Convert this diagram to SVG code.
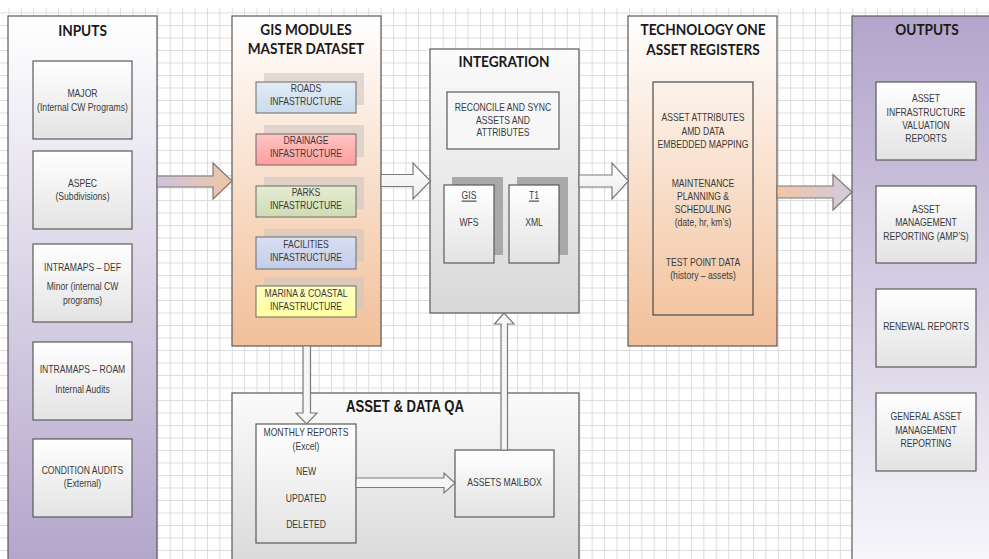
<svg xmlns="http://www.w3.org/2000/svg" width="989" height="559" viewBox="0 0 989 559">
<style>
.t{font-family:"Liberation Sans",Arial,sans-serif;font-size:10.5px;fill:#3a3a3a;text-anchor:middle}
.h{font-family:Lato,"Open Sans","Liberation Sans",sans-serif;font-weight:bold;font-size:15.5px;fill:#1a1a1a;text-anchor:middle}
.hn{font-family:"Liberation Sans",Arial,sans-serif;font-weight:bold;font-size:16px;fill:#1a1a1a;text-anchor:middle}
.pn{stroke:#5a5a5a;stroke-width:1.2}
.bx{fill:url(#gBox);stroke:#5a5a5a;stroke-width:1.2}
.sb{stroke:#6a6a6a;stroke-width:1}
.sh{fill:#cfc6c2;opacity:.6}
.sh2{fill:#a9a9a9}
.ar{stroke:#7a7a7a;stroke-width:1.2}
</style>
<defs>
<pattern id="grid" x="8.4" y="0" width="12.41" height="12.5" patternUnits="userSpaceOnUse">
<path d="M0.5 0V12.5M0 0.5H12.41" stroke="#dcdcdc" stroke-width="1" fill="none"/>
</pattern>
<linearGradient id="gIn" x1="0" y1="0" x2="0" y2="1"><stop offset="0" stop-color="#ffffff"/><stop offset="1" stop-color="#b2a5cb"/></linearGradient>
<linearGradient id="gOut" x1="0" y1="0" x2="0" y2="1"><stop offset="0" stop-color="#b2a5cb"/><stop offset="1" stop-color="#f8f7fb"/></linearGradient>
<linearGradient id="gPeach" x1="0" y1="0" x2="0" y2="1"><stop offset="0" stop-color="#ffffff"/><stop offset="1" stop-color="#f2bf98"/></linearGradient>
<linearGradient id="gGrey" x1="0" y1="0" x2="0" y2="1"><stop offset="0" stop-color="#fbfbfb"/><stop offset="1" stop-color="#d8d8d8"/></linearGradient>
<linearGradient id="gBox" x1="0" y1="0" x2="0" y2="1"><stop offset="0" stop-color="#ffffff"/><stop offset="1" stop-color="#e3e3e3"/></linearGradient>
<linearGradient id="gRoad" x1="0" y1="0" x2="0" y2="1"><stop offset="0" stop-color="#e3ecf5"/><stop offset="1" stop-color="#c9dbed"/></linearGradient>
<linearGradient id="gDrain" x1="0" y1="0" x2="0" y2="1"><stop offset="0" stop-color="#ffc4c4"/><stop offset="1" stop-color="#ff9e9e"/></linearGradient>
<linearGradient id="gPark" x1="0" y1="0" x2="0" y2="1"><stop offset="0" stop-color="#e4ecd2"/><stop offset="1" stop-color="#cfdcb2"/></linearGradient>
<linearGradient id="gFac" x1="0" y1="0" x2="0" y2="1"><stop offset="0" stop-color="#d9def2"/><stop offset="1" stop-color="#c4cde9"/></linearGradient>
<linearGradient id="gMar" x1="0" y1="0" x2="0" y2="1"><stop offset="0" stop-color="#ffffc4"/><stop offset="1" stop-color="#ffff9e"/></linearGradient>
<linearGradient id="gA1" x1="0" y1="0" x2="1" y2="0"><stop offset="0" stop-color="#cdc2dc"/><stop offset="1" stop-color="#f1c6a6"/></linearGradient>
<linearGradient id="gA4" x1="0" y1="0" x2="1" y2="0"><stop offset="0" stop-color="#f2c6a5"/><stop offset="1" stop-color="#d2c9df"/></linearGradient>
<linearGradient id="gAW" x1="0" y1="0" x2="0" y2="1"><stop offset="0" stop-color="#ffffff"/><stop offset="1" stop-color="#ececec"/></linearGradient>
</defs>
<rect width="989" height="559" fill="#ffffff"/>
<rect x="0" y="8" width="989" height="551" fill="url(#grid)"/>

<g id="inputs">
<rect class="pn" x="8" y="16" width="149" height="550" fill="url(#gIn)"/>
<g transform="translate(82.5 0) scale(0.88 1)"><text class="h" x="0" y="36">INPUTS</text></g>
<rect class="bx" x="33" y="61" width="99" height="78"/>
<rect class="bx" x="33" y="151" width="99" height="78"/>
<rect class="bx" x="33" y="244" width="99" height="78"/>
<rect class="bx" x="33" y="342" width="99" height="78"/>
<rect class="bx" x="33" y="439" width="99" height="78"/>
<g transform="translate(82.5 0) scale(0.82 1)">
<text class="t" x="0" y="97.5">MAJOR</text>
<text class="t" x="0" y="111.5">(Internal CW Programs)</text>
<text class="t" x="0" y="187.5">ASPEC</text>
<text class="t" x="0" y="200.5">(Subdivisions)</text>
<text class="t" x="0" y="271.5">INTRAMAPS – DEF</text>
<text class="t" x="0" y="290.5">Minor (internal CW</text>
<text class="t" x="0" y="304.5">programs)</text>
<text class="t" x="0" y="373.5">INTRAMAPS – ROAM</text>
<text class="t" x="0" y="393.5">Internal Audits</text>
<text class="t" x="0" y="474.5">CONDITION AUDITS</text>
<text class="t" x="0" y="487.5">(External)</text>
</g>
</g>

<g id="gis-modules">
<rect class="pn" x="232" y="16" width="149" height="330" fill="url(#gPeach)"/>
<g transform="translate(306 0) scale(0.88 1)">
<text class="h" x="0" y="35">GIS MODULES</text>
<text class="h" x="0" y="54.5">MASTER DATASET</text>
</g>
<rect class="sh" x="264" y="73" width="100" height="32"/>
<rect class="sb" x="256" y="82" width="100" height="31" fill="url(#gRoad)"/>
<rect class="sh" x="264" y="125" width="100" height="32"/>
<rect class="sb" x="256" y="134" width="100" height="31" fill="url(#gDrain)"/>
<rect class="sh" x="264" y="177" width="100" height="32"/>
<rect class="sb" x="256" y="186" width="100" height="31" fill="url(#gPark)"/>
<rect class="sh" x="264" y="229" width="100" height="32"/>
<rect class="sb" x="256" y="237" width="100" height="32" fill="url(#gFac)"/>
<rect class="sh" x="264" y="277" width="100" height="32"/>
<rect class="sb" x="256" y="286" width="100" height="31" fill="url(#gMar)"/>
<g transform="translate(306 0) scale(0.82 1)">
<text class="t" x="0" y="92.5">ROADS</text>
<text class="t" x="0" y="105.5">INFASTRUCTURE</text>
<text class="t" x="0" y="144.5">DRAINAGE</text>
<text class="t" x="0" y="157.5">INFASTRUCTURE</text>
<text class="t" x="0" y="196.5">PARKS</text>
<text class="t" x="0" y="209.5">INFASTRUCTURE</text>
<text class="t" x="0" y="248">FACILITIES</text>
<text class="t" x="0" y="261">INFASTRUCTURE</text>
<text class="t" x="0" y="297.5">MARINA &amp; COASTAL</text>
<text class="t" x="0" y="310.5">INFASTRUCTURE</text>
</g>
</g>

<g id="integration">
<rect class="pn" x="430" y="49" width="149" height="264" fill="url(#gGrey)"/>
<g transform="translate(504 0) scale(0.88 1)"><text class="h" x="0" y="67.5">INTEGRATION</text></g>
<rect x="447" y="92" width="112" height="57" fill="#f7f7f7" stroke="#5a5a5a" stroke-width="1.2"/>
<g transform="translate(503 0) scale(0.82 1)">
<text class="t" x="0" y="111.5">RECONCILE AND SYNC</text>
<text class="t" x="0" y="124.5">ASSETS AND</text>
<text class="t" x="0" y="136.5">ATTRIBUTES</text>
</g>
<rect class="sh2" x="452" y="177" width="51" height="78"/>
<rect class="bx" x="444" y="185" width="50" height="78"/>
<g transform="translate(469 0) scale(0.82 1)">
<text class="t" x="0" y="199.5" text-decoration="underline">GIS</text>
<text class="t" x="0" y="226.5">WFS</text>
</g>
<rect class="sh2" x="517" y="177" width="51" height="78"/>
<rect class="bx" x="509" y="185" width="50" height="78"/>
<g transform="translate(534 0) scale(0.82 1)">
<text class="t" x="0" y="199.5" text-decoration="underline">T1</text>
<text class="t" x="0" y="226.5">XML</text>
</g>
</g>

<g id="technology-one">
<rect class="pn" x="628" y="16" width="149" height="330" fill="url(#gPeach)"/>
<g transform="translate(703 0) scale(0.88 1)">
<text class="h" x="0" y="35">TECHNOLOGY ONE</text>
<text class="h" x="0" y="55">ASSET REGISTERS</text>
</g>
<rect x="653" y="82" width="100" height="233" fill="none" stroke="#4a4a4a" stroke-width="1.2"/>
<g transform="translate(703 0) scale(0.82 1)">
<text class="t" x="0" y="121.5">ASSET ATTRIBUTES</text>
<text class="t" x="0" y="135.5">AMD DATA</text>
<text class="t" x="0" y="148.5">EMBEDDED MAPPING</text>
<text class="t" x="0" y="187.5">MAINTENANCE</text>
<text class="t" x="0" y="200.5">PLANNING &amp;</text>
<text class="t" x="0" y="213.5">SCHEDULING</text>
<text class="t" x="0" y="226.5">(date, hr, km’s)</text>
<text class="t" x="0" y="266.5">TEST POINT DATA</text>
<text class="t" x="0" y="279.5">(history – assets)</text>
</g>
</g>

<g id="outputs">
<rect class="pn" x="852" y="16" width="150" height="550" fill="url(#gOut)"/>
<g transform="translate(927 0) scale(0.88 1)"><text class="h" x="0" y="35">OUTPUTS</text></g>
<rect class="bx" x="876" y="82" width="100" height="78"/>
<rect class="bx" x="876" y="186" width="100" height="77"/>
<rect class="bx" x="876" y="289" width="100" height="78"/>
<rect class="bx" x="876" y="393" width="100" height="78"/>
<g transform="translate(926 0) scale(0.82 1)">
<text class="t" x="0" y="102.5">ASSET</text>
<text class="t" x="0" y="116">INFRASTRUCTURE</text>
<text class="t" x="0" y="129.5">VALUATION</text>
<text class="t" x="0" y="142.5">REPORTS</text>
<text class="t" x="0" y="213.5">ASSET</text>
<text class="t" x="0" y="226.5">MANAGEMENT</text>
<text class="t" x="0" y="240.5">REPORTING (AMP’S)</text>
<text class="t" x="0" y="330.5">RENEWAL REPORTS</text>
<text class="t" x="0" y="420.5">GENERAL ASSET</text>
<text class="t" x="0" y="434">MANAGEMENT</text>
<text class="t" x="0" y="447.5">REPORTING</text>
</g>
</g>

<g id="asset-data-qa">
<rect class="pn" x="232" y="393" width="347" height="180" fill="url(#gGrey)"/>
<g transform="translate(405 0) scale(0.82 1)"><text class="hn" x="0" y="412">ASSET &amp; DATA QA</text></g>
<g id="monthly-reports">
<rect class="bx" x="256" y="424" width="100" height="119"/>
<g transform="translate(306 0) scale(0.82 1)">
<text class="t" x="0" y="436.5">MONTHLY REPORTS</text>
<text class="t" x="0" y="450.5">(Excel)</text>
<text class="t" x="0" y="475.5">NEW</text>
<text class="t" x="0" y="502">UPDATED</text>
<text class="t" x="0" y="528">DELETED</text>
</g>
</g>
<g id="assets-mailbox">
<rect class="bx" x="455" y="450" width="99" height="67"/>
<g transform="translate(504.5 0) scale(0.82 1)"><text class="t" x="0" y="486.5">ASSETS MAILBOX</text></g>
</g>
</g>

<g id="connectors">
<path class="ar" fill="url(#gA1)" d="M157,176 H213 V163 L232,181 L213,199 V187 H157 Z"/>
<path class="ar" fill="url(#gAW)" d="M381,174.5 H413 V163 L430.5,181 L413,199 V186.5 H381 Z"/>
<path class="ar" fill="url(#gAW)" d="M579,175 H612 V163 L628.5,181 L612,199 V187 H579 Z"/>
<path class="ar" fill="url(#gA4)" d="M777,186 H833 V174.5 L852,192 L833,210 V198 H777 Z"/>
<path class="ar" fill="#f6f6f6" d="M303,346 V413 H296 L306.5,424 L317,413 H310.5 V346 Z"/>
<path class="ar" fill="#f6f6f6" d="M356,478 H444 V473 L455,483 L444,493 V487.5 H356 Z"/>
<path class="ar" fill="#f6f6f6" d="M501,450 V324 H494.5 L504,313 L514,324 H507.5 V450 Z"/>
</g>
</svg>
